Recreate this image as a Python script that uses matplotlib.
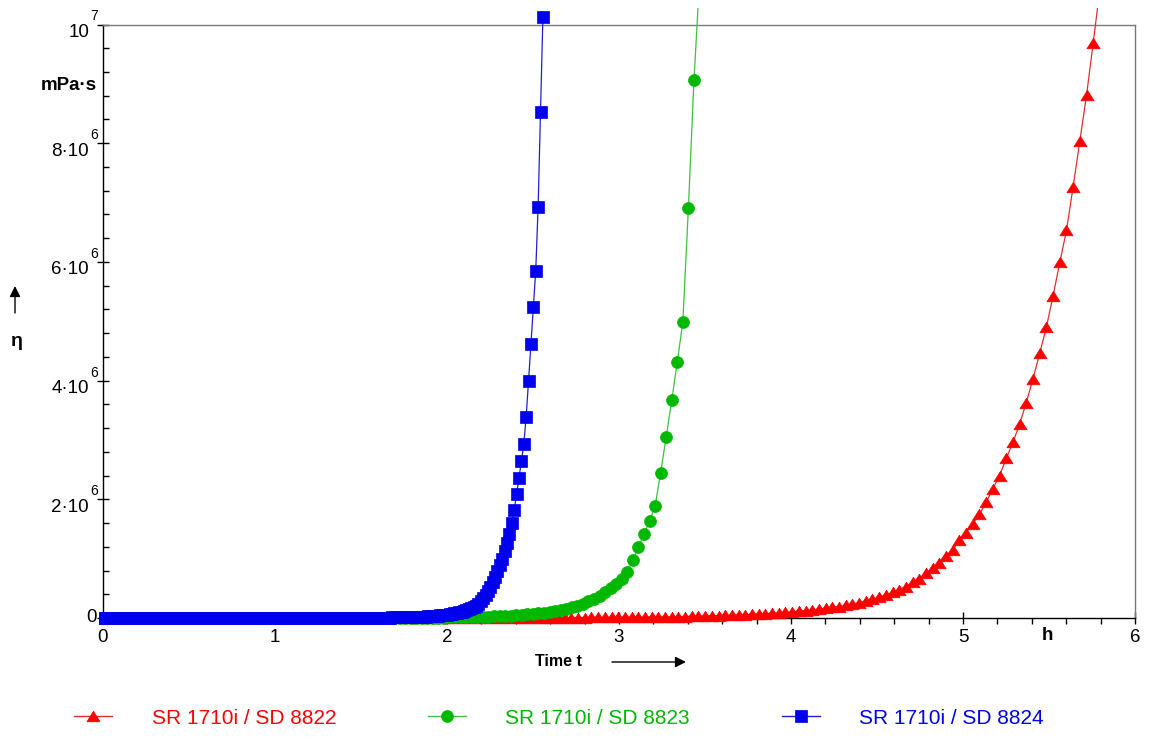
import numpy as np
import matplotlib
matplotlib.use("Agg")
import matplotlib.pyplot as plt
from matplotlib.patches import Rectangle
from matplotlib.lines import Line2D
from matplotlib.ticker import MultipleLocator

plt.rcParams['font.family'] = ['Liberation Sans', 'DejaVu Sans']

# ---------------- data (viscosity in units of 10^6 mPa·s) ----------------
series_names = ["SR 1710i / SD 8822", "SR 1710i / SD 8823", "SR 1710i / SD 8824"]

# sampling schedule of each measurement (h)
red_t0, red_dt = 0.0, 0.0389
green_t0, green_dt = 0.012, 0.0323
blue_t0, blue_dt = 0.0, 0.0139

red_eta = [
    0, 0, 0, 0, 0, 0, 0, 0, 0, 0,
    0, 0, 0, 0, 0, 0, 0, 0, 0, 0,
    0, 0, 0, 0, 0, 0, 0, 0, 0, 0,
    0, 0, 0, 0, 0, 0, 0, 0, 0, 0,
    0, 0, 0, 0, 0, 0, 0, 0, 0, 0,
    0.002, 0.002, 0.002, 0.002, 0.003, 0.003, 0.003, 0.003, 0.004, 0.004,
    0.004, 0.005, 0.005, 0.005, 0.006, 0.006, 0.006, 0.007, 0.007, 0.007,
    0.008, 0.008, 0.008, 0.009, 0.009, 0.009, 0.010, 0.011, 0.012, 0.013,
    0.014, 0.015, 0.016, 0.018, 0.019, 0.021, 0.023, 0.025, 0.027, 0.030,
    0.033, 0.036, 0.039, 0.043, 0.047, 0.051, 0.056, 0.061, 0.067, 0.073,
    0.080, 0.087, 0.095, 0.104, 0.113, 0.124, 0.135, 0.148, 0.162, 0.177,
    0.193, 0.211, 0.231, 0.256, 0.285, 0.316, 0.351, 0.389, 0.432, 0.48,
    0.53, 0.60, 0.66, 0.75, 0.84, 0.93, 1.05, 1.15, 1.31, 1.44,
    1.59, 1.75, 1.95, 2.18, 2.40, 2.69, 2.96, 3.27, 3.63, 4.03,
    4.46, 4.90, 5.43, 5.99, 6.53, 7.27, 8.04, 8.81, 9.69, 10.61,
]

green_eta = [
    0, 0, 0, 0, 0, 0, 0, 0, 0, 0,
    0, 0, 0, 0, 0, 0, 0, 0, 0, 0,
    0, 0, 0, 0, 0, 0, 0, 0, 0, 0,
    0, 0, 0, 0, 0, 0, 0, 0, 0, 0,
    0, 0, 0, 0, 0,
    0.001, 0.001, 0.001, 0.002, 0.002, 0.002, 0.003, 0.003, 0.003, 0.004,
    0.004, 0.005, 0.005, 0.006, 0.006,
    0.007, 0.008, 0.009, 0.010, 0.011, 0.013, 0.015, 0.017, 0.020, 0.023,
    0.026, 0.030, 0.035, 0.040, 0.046, 0.053, 0.061, 0.070, 0.080, 0.092,
    0.105, 0.12, 0.14, 0.16, 0.18, 0.21, 0.24, 0.28, 0.32, 0.37,
    0.43, 0.50, 0.57, 0.66, 0.77, 0.98, 1.20, 1.41, 1.63, 1.88,
    2.45, 3.05, 3.67, 4.31, 4.99, 6.91, 9.06, 10.73,
]

blue_eta = [
    0, 0, 0, 0, 0, 0, 0, 0, 0, 0,
    0, 0, 0, 0, 0, 0, 0, 0, 0, 0,
    0, 0, 0, 0, 0, 0, 0, 0, 0, 0,
    0, 0, 0, 0, 0, 0, 0, 0, 0, 0,
    0, 0, 0, 0, 0, 0, 0, 0, 0, 0,
    0, 0, 0, 0, 0, 0, 0, 0, 0, 0,
    0, 0, 0, 0, 0, 0, 0, 0, 0, 0,
    0, 0, 0, 0, 0, 0, 0, 0, 0, 0,
    0, 0, 0, 0, 0, 0, 0, 0, 0, 0,
    0.001, 0.001, 0.001, 0.001, 0.002, 0.002, 0.002, 0.002, 0.002, 0.003,
    0.003, 0.003, 0.003, 0.004, 0.004, 0.004, 0.004, 0.005, 0.005, 0.005,
    0.006, 0.006, 0.006, 0.007, 0.007, 0.007, 0.008, 0.008, 0.008, 0.008,
    0.008, 0.009, 0.009, 0.010, 0.010, 0.011, 0.012, 0.013, 0.014, 0.015,
    0.016, 0.017, 0.019, 0.021, 0.023, 0.025, 0.027, 0.030, 0.033, 0.036,
    0.040, 0.044, 0.048, 0.053, 0.058, 0.064, 0.070, 0.077, 0.085, 0.094,
    0.105, 0.117, 0.131, 0.147, 0.165, 0.185, 0.21, 0.24, 0.28, 0.33,
    0.39, 0.46, 0.53, 0.61, 0.69, 0.79, 0.89, 0.99, 1.13, 1.27,
    1.42, 1.60, 1.82,
    2.09, 2.36, 2.65, 2.93, 3.39, 4.00, 4.62, 5.24, 5.85, 6.93, 8.53, 10.13,
]

xtick_vals = [0, 1, 2, 3, 4, 5, 6]
xtick_labels = ["0", "1", "2", "3", "4", "5", "6"]
ytick_vals = [0, 2e6, 4e6, 6e6, 8e6, 1e7]
ytick_base = ["0", "2·10", "4·10", "6·10", "8·10", "10"]
ytick_exp = ["", "6", "6", "6", "6", "7"]

# ---------------- styling ----------------
marker_cols = ["#ff0000", "#00b800", "#0000ee"]
line_cols = ["#e03030", "#40c040", "#2020d0"]
tri = [(0, 0.8), (-1, -0.8), (1, -0.8), (0, 0.8)]
markers = [tri, "o", "s"]
msizes = [9.5, 8.6, 9.0]
TICK_FS = 13.5

W, H = 1149, 742
L, R, T, B = 103, 1135, 24.5, 618
fig = plt.figure(figsize=(W / 100, H / 100), dpi=100)
ax = fig.add_axes([L / W, 1 - B / H, (R - L) / W, (B - T) / H])
ax.set_xlim(0, 6)
ax.set_ylim(0, 1e7)

pw, ph = R - L, B - T
clip_rect = Rectangle((-4 / pw, -12 / ph), 1 + 8 / pw, 1 + (12 + 17) / ph,
                      transform=ax.transAxes)

data = [(red_t0, red_dt, red_eta), (green_t0, green_dt, green_eta),
        (blue_t0, blue_dt, blue_eta)]
handles = []
for i, (t0, dt, eta) in enumerate(data):
    eta = np.asarray(eta, dtype=float)
    t = t0 + dt * np.arange(len(eta))
    ln, = ax.plot(t, eta * 1e6, color=line_cols[i], lw=0.9,
                  marker=markers[i], ms=msizes[i], mfc=marker_cols[i],
                  mec=marker_cols[i], mew=0.5, zorder=3 + i)
    ln.set_clip_path(clip_rect)
    handles.append(Line2D([], [], color=line_cols[i], lw=1.0,
                          marker=markers[i], ms=msizes[i], mfc=marker_cols[i],
                          mec=marker_cols[i], mew=0.5))

# spines
for s in ["top", "right"]:
    ax.spines[s].set_color("#7a7a7a")
    ax.spines[s].set_linewidth(1.0)
for s in ["left", "bottom"]:
    ax.spines[s].set_color("black")
    ax.spines[s].set_linewidth(1.0)

ax.set_xticks(xtick_vals)
ax.set_xticklabels(xtick_labels)
ax.xaxis.set_minor_locator(MultipleLocator(0.2))
ax.set_yticks(ytick_vals)
ax.yaxis.set_minor_locator(MultipleLocator(0.4e6))
ax.tick_params(axis="x", which="major", direction="inout", length=8,
               width=1, labelsize=TICK_FS, pad=4)
ax.tick_params(axis="x", which="minor", direction="out", length=4, width=1)
ax.tick_params(axis="y", which="major", direction="inout", length=8,
               width=1, labelleft=False)
ax.tick_params(axis="y", which="minor", direction="in", length=4, width=1)

# y tick labels with raised exponent
for v, b, e in zip(ytick_vals, ytick_base, ytick_exp):
    if e == "":
        ax.annotate(b, xy=(0, v), xycoords=("axes fraction", "data"),
                    xytext=(-6, 0), textcoords="offset pixels",
                    ha="right", va="center", fontsize=TICK_FS)
    else:
        ax.annotate(b, xy=(0, v), xycoords=("axes fraction", "data"),
                    xytext=(-14, -8), textcoords="offset pixels",
                    ha="right", va="center", fontsize=TICK_FS)
        ax.annotate(e, xy=(0, v), xycoords=("axes fraction", "data"),
                    xytext=(-13, 8), textcoords="offset pixels",
                    ha="left", va="center", fontsize=10)

# axis captions (pixel positions in figure)
def fx(x):
    return x / W

def fy(y):
    return 1 - y / H

fig.text(fx(97), fy(85), "mPa·s", ha="right", va="center",
         fontsize=13.5, fontweight="bold")
fig.text(fx(17), fy(342), "η", ha="center", va="center",
         fontsize=14, fontweight="bold")
fig.text(fx(558), fy(662), "Time t", ha="center", va="center",
         fontsize=11.5, fontweight="bold")
fig.text(fx(1047), fy(636), "h", ha="center", va="center",
         fontsize=13.5, fontweight="bold")

arrow_kw = dict(arrowstyle="-|>", color="black", lw=1.0,
                mutation_scale=16, shrinkA=0, shrinkB=0)
ax.annotate("", xy=(fx(686), fy(662)), xytext=(fx(612), fy(662)),
            xycoords="figure fraction", textcoords="figure fraction",
            arrowprops=arrow_kw, annotation_clip=False)
ax.annotate("", xy=(fx(15), fy(286)), xytext=(fx(15), fy(313)),
            xycoords="figure fraction", textcoords="figure fraction",
            arrowprops=arrow_kw, annotation_clip=False)

leg = fig.legend(handles, series_names, loc="center",
                 bbox_to_anchor=(fx(559), fy(718)), ncol=3, frameon=False,
                 fontsize=15, handlelength=1.83, handletextpad=1.9,
                 columnspacing=4.4, numpoints=1)
for txt, c in zip(leg.get_texts(), marker_cols):
    txt.set_color(c)

fig.savefig("out.png", dpi=100)
